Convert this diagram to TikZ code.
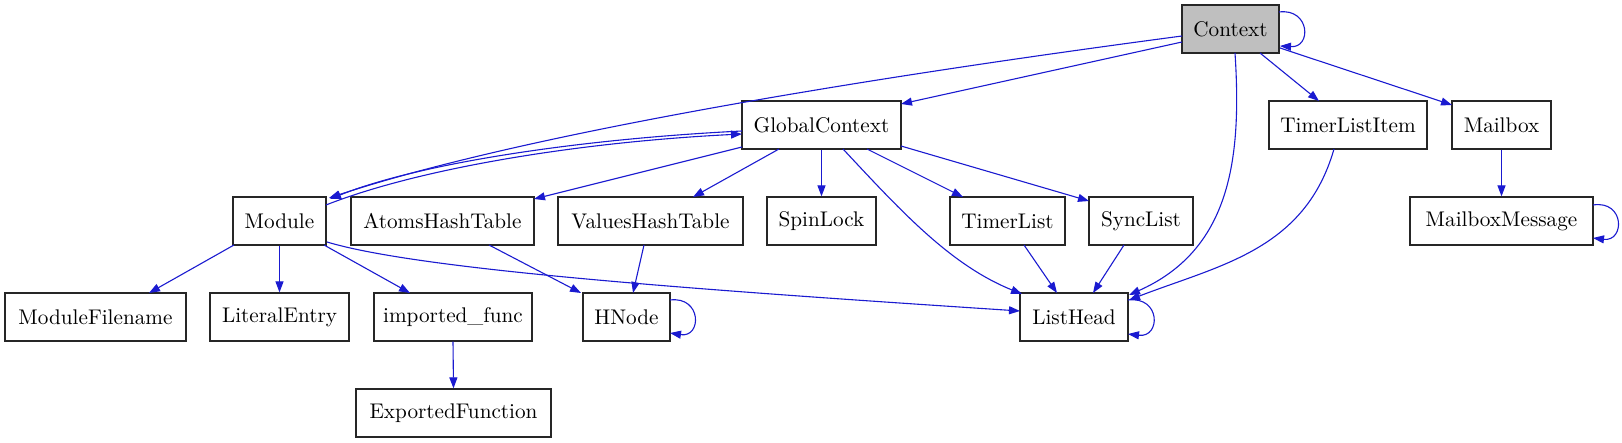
\documentclass[tikz,border=0pt]{standalone}
\usetikzlibrary{arrows.meta,calc}
\definecolor{edgeblue}{RGB}{26,26,208}
\definecolor{ctxgray}{RGB}{191,191,191}
\newcommand\lbl[1]{\scalebox{2.12}{\fontsize{10}{12}\selectfont #1}}
\begin{document}
\begin{tikzpicture}[x=1pt,y=-1pt,
  box/.style={draw=black!85,line width=1.2pt,fill=white,minimum height=48pt,inner sep=0pt},
  edge/.style={draw=edgeblue,line width=1.1pt,-{Triangle[length=11pt,width=8pt]}}]
\useasboundingbox (0,0) rectangle (1622,443);
% nodes
\node[box,fill=ctxgray,minimum width=97pt] (ctx) at (1230.5,29) {\lbl{Context}};
\node[box,minimum width=159pt] (gc) at (821.5,125) {\lbl{GlobalContext}};
\node[box,minimum width=158pt] (tli) at (1348,125) {\lbl{TimerListItem}};
\node[box,minimum width=99pt] (mb) at (1501.5,125) {\lbl{Mailbox}};
\node[box,minimum width=93pt] (mod) at (279.5,221) {\lbl{Module}};
\node[box,minimum width=183pt] (aht) at (442.5,221) {\lbl{AtomsHashTable}};
\node[box,minimum width=185pt] (vht) at (650.5,221) {\lbl{ValuesHashTable}};
\node[box,minimum width=109pt] (spin) at (821.5,221) {\lbl{SpinLock}};
\node[box,minimum width=115pt] (tl) at (1007.5,221) {\lbl{TimerList}};
\node[box,minimum width=104pt] (sl) at (1141,221) {\lbl{SyncList}};
\node[box,minimum width=183pt] (mbm) at (1501.5,221) {\lbl{MailboxMessage}};
\node[box,minimum width=181pt] (mf) at (95.5,317) {\lbl{ModuleFilename}};
\node[box,minimum width=139pt] (le) at (279.5,317) {\lbl{LiteralEntry}};
\node[box,minimum width=158pt] (imp) at (453,317) {\lbl{imported\_func}};
\node[box,minimum width=87pt] (hn) at (626.5,317) {\lbl{HNode}};
\node[box,minimum width=108pt] (lh) at (1074,317) {\lbl{ListHead}};
\node[box,minimum width=195pt] (ef) at (453.5,413) {\lbl{ExportedFunction}};
% edges
\draw[edge] ($(ctx)+(-48.5,7)$) .. controls (850,80) and (520,135) .. ($(mod)+(49.5,-23)$);
\draw[edge] ($(ctx)+(-48.5,13)$) -- ($(gc)+(79.5,-21)$);
\draw[edge] ($(gc)+(-79.5,6)$) .. controls (580,139) and (420,163) .. ($(mod)+(50.5,-22)$);
\draw[edge] ($(mod)+(46.5,-16)$) .. controls (420,168) and (580,142) .. ($(gc)+(-79.5,9)$);
\draw[edge] ($(gc)+(-79.5,22)$) -- ($(aht)+(91.5,-22)$);
\draw[edge] ($(gc)+(-42.5,24)$) -- ($(vht)+(42.5,-24)$);
\draw[edge] (gc.south) -- (spin.north);
\draw[edge] ($(gc)+(21.5,24)$) .. controls (900,210) and (950,265) .. ($(lh)+(-52,-23)$);
\draw[edge] ($(gc)+(45.5,24)$) -- ($(tl)+(-44.5,-24)$);
\draw[edge] ($(gc)+(79.5,21)$) -- ($(sl)+(-52,-20)$);
\draw[edge] ($(ctx)+(4.5,24)$) .. controls (1242,160) and (1230,250) .. ($(lh)+(55,-22)$);
\draw[edge] ($(ctx)+(29.5,24)$) -- ($(tli)+(-29,-24)$);
\draw[edge] ($(ctx)+(49.5,19)$) -- ($(mb)+(-49.5,-20)$);
\draw[edge] ($(tli)+(-14,24)$) .. controls (1305,250) and (1220,265) .. ($(lh)+(55,-17)$);
\draw[edge] (mb.south) -- (mbm.north);
\draw[edge] ($(mod)+(-45.5,24)$) -- ($(mf)+(53.5,-24)$);
\draw[edge] (mod.south) -- (le.north);
\draw[edge] ($(mod)+(44.5,24)$) -- ($(imp)+(-43,-24)$);
\draw[edge] ($(mod)+(47.5,21)$) .. controls (420,270) and (700,290) .. ($(lh)+(-54,-6)$);
\draw[edge] ($(aht)+(46.5,24)$) -- ($(hn)+(-45.5,-24)$);
\draw[edge] ($(vht)+(-6.5,24)$) -- ($(hn)+(6.5,-24)$);
\draw[edge] (imp.south) -- (ef.north);
\draw[edge] ($(tl)+(16.5,24)$) -- ($(lh)+(-17,-24)$);
\draw[edge] ($(sl)+(-17,24)$) -- ($(lh)+(19,-24)$);
% self loops
\draw[edge] ($(ctx)+(48.5,-17)$) .. controls (1310,8) and (1312,48) .. ($(ctx)+(49.5,17)$);
\draw[edge] ($(hn)+(43.5,-17)$) .. controls (702,296) and (702,338) .. ($(hn)+(43.5,16)$);
\draw[edge] ($(lh)+(54,-17)$) .. controls (1161,296) and (1161,338) .. ($(lh)+(54,17)$);
\draw[edge] ($(mbm)+(91.5,-16)$) .. controls (1625,200) and (1625,242) .. ($(mbm)+(91.5,17)$);
\end{tikzpicture}
\end{document}
